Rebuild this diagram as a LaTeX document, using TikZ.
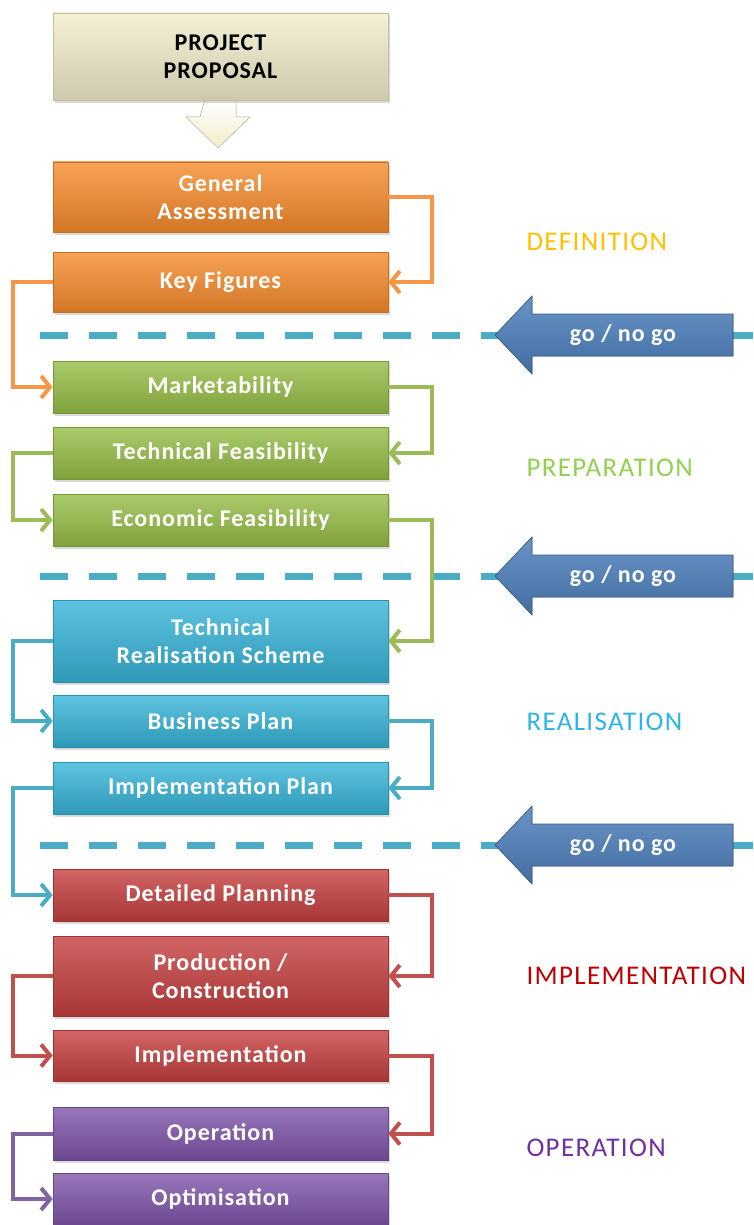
\documentclass[tikz,border=0pt]{standalone}
\usepackage{fontspec}
\setmainfont{Carlito}
\newfontfamily\boxfont[LetterSpace=4]{Carlito}
\newfontfamily\phasefont[LetterSpace=5]{Carlito}
\usetikzlibrary{shadows,arrows.meta}
\definecolor{cProp}{HTML}{F2EDCB}
\definecolor{cDef}{HTML}{F79646}
\definecolor{cPrep}{HTML}{9BBB59}
\definecolor{cReal}{HTML}{4BACC6}
\definecolor{cImpl}{HTML}{C0504D}
\definecolor{cOper}{HTML}{8064A2}
\definecolor{bDef}{HTML}{F78B2C}
\definecolor{bPrep}{HTML}{96BE46}
\definecolor{bReal}{HTML}{36B4D8}
\definecolor{bImpl}{HTML}{C63F3F}
\definecolor{bOper}{HTML}{7F55AA}
\definecolor{tDef}{HTML}{FFC000}
\definecolor{tPrep}{HTML}{92D050}
\definecolor{tReal}{HTML}{2FB4E8}
\definecolor{tImpl}{HTML}{C00000}
\definecolor{tOper}{HTML}{7030A0}
\definecolor{cGo}{HTML}{4F81BD}
\tikzstyle{stage}=[rectangle,minimum width=335pt,align=center,text=white,font=\boxfont\fontsize{24}{28}\selectfont\bfseries,drop shadow={opacity=.3,shadow xshift=1.5pt,shadow yshift=-3pt}]
\tikzset{tone/.style={top color=#1!80!white,bottom color=#1!85!black,draw=#1!80!black,line width=.6pt}}
\tikzstyle{phase}=[anchor=west,font=\phasefont\fontsize{27}{30}\selectfont]
\tikzstyle{flow}=[line width=4pt,-{Straight Barb[length=9pt,width=22pt]}]
\tikzstyle{gate}=[line width=7pt,cReal,dash pattern=on 28pt off 21pt]
\tikzstyle{go}=[top color=cGo!85!white,bottom color=cGo!85!black,draw=cGo!70!black,line width=.6pt]

\begin{document}
\begin{tikzpicture}[x=1pt,y=-1pt]
\useasboundingbox (0,0) rectangle (753,1225);
\foreach \y/\i in {335/1,576/2,845/3} {\coordinate (gl\i) at (40,\y); \coordinate (tip\i) at (495,\y);
\draw[gate] (gl\i) -- ++(713,0);
\filldraw[go] (tip\i) -- ++(37,-39) -- ++(0,18) -- ++(201,0) -- ++(0,42) -- ++(-201,0) -- ++(0,18) -- cycle;
\node[text=white,font=\boxfont\fontsize{24}{28}\selectfont\bfseries] (gng\i) at (623,\y) {go / no go};}
\coordinate (down) at (220.5,100);
\filldraw[top color=white,bottom color=cProp,draw=cProp!80!black] (down) ++(-15.5,0) -- ++(31,0) -- ++(0,17) -- ++(14,0) -- ++(-32,31) -- ++(-32,-31) -- ++(14,0) -- cycle;
\node[stage,tone=cProp,text=black,minimum height=87pt] (prop) at (220.5,56.5) {PROJECT\\PROPOSAL};
\node[stage,tone=bDef,minimum height=70pt] (gen) at (220.5,197) {General\\Assessment};
\node[stage,tone=bDef,minimum height=60pt] (key) at (220.5,282) {Key Figures};
\node[stage,tone=bPrep,minimum height=52pt] (mkt) at (220.5,387) {Marketability};
\node[stage,tone=bPrep,minimum height=52pt] (tech) at (220.5,453) {Technical Feasibility};
\node[stage,tone=bPrep,minimum height=52pt] (econ) at (220.5,520) {Economic Feasibility};
\node[stage,tone=bReal,minimum height=82pt] (trs) at (220.5,641) {Technical\\Realisation Scheme};
\node[stage,tone=bReal,minimum height=52pt] (bp) at (220.5,721) {Business Plan};
\node[stage,tone=bReal,minimum height=52pt] (ip) at (220.5,788) {Implementation Plan};
\node[stage,tone=bImpl,minimum height=52pt] (dp) at (220.5,895) {Detailed Planning};
\node[stage,tone=bImpl,minimum height=80pt] (pc) at (220.5,976) {Production /\\Construction};
\node[stage,tone=bImpl,minimum height=51pt] (impl) at (220.5,1055.5) {Implementation};
\node[stage,tone=bOper,minimum height=53pt] (oper) at (220.5,1133.5) {Operation};
\node[stage,tone=bOper,minimum height=52pt] (opt) at (220.5,1199) {Optimisation};
\foreach \a/\b/\c in {gen/key/cDef,mkt/tech/cPrep,econ/trs/cPrep,bp/ip/cReal,dp/pc/cImpl,impl/oper/cImpl}
\draw[flow,\c] (\a.east) -- ++(44,0) |- (\b.east);
\foreach \a/\b/\c in {key/mkt/cDef,tech/econ/cPrep,trs/bp/cReal,ip/dp/cReal,pc/impl/cImpl,oper/opt/cOper}
\draw[flow,\c] (\a.west) -- ++(-40,0) |- (\b.west);
\node[phase,tDef] (pDef) at (523,242) {DEFINITION};
\node[phase,tPrep] (pPrep) at (523,468) {PREPARATION};
\node[phase,tReal] (pReal) at (523,722) {REALISATION};
\node[phase,tImpl] (pImpl) at (523,976) {IMPLEMENTATION};
\node[phase,tOper] (pOper) at (523,1148) {OPERATION};
\end{tikzpicture}
\end{document}
